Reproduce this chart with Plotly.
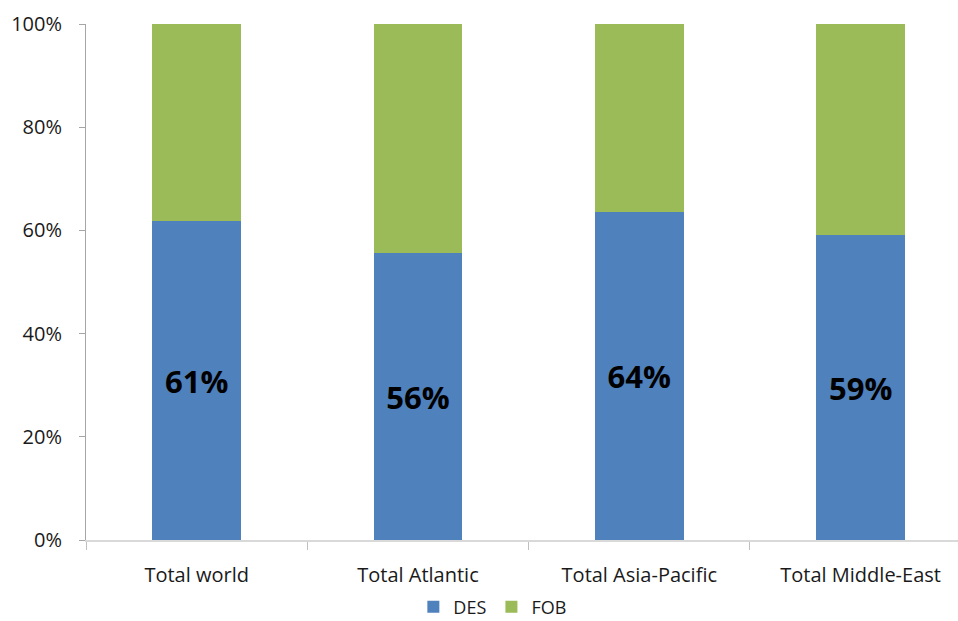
import plotly.graph_objects as go

categories = ["Total world", "Total Atlantic", "Total Asia-Pacific", "Total Middle-East"]
des_values = [61.8, 55.6, 63.6, 59.1]
fob_values = [100 - v for v in des_values]
des_labels = ["61%", "56%", "64%", "59%"]

FONT = "Open Sans, Liberation Sans, sans-serif"

fig = go.Figure()
fig.add_trace(go.Bar(
    x=categories, y=des_values, name="DES", marker_color="#4f81bd",
    marker_line_width=0, width=0.4,
    text=des_labels, textposition="inside", insidetextanchor="middle",
    textfont=dict(family=FONT, size=31, color="black", weight="bold"),
    textangle=0, hoverinfo="skip",
))
fig.add_trace(go.Bar(
    x=categories, y=fob_values, name="FOB", marker_color="#9bbb59",
    marker_line_width=0, width=0.4, hoverinfo="skip",
))

fig.update_layout(
    barmode="stack",
    width=958, height=621,
    margin=dict(l=86, r=0, t=24, b=81, autoexpand=False),
    paper_bgcolor="white", plot_bgcolor="white",
    font=dict(family=FONT, size=19, color="#1a1a1a"),
    showlegend=True,
    legend=dict(orientation="h", x=0.466, xanchor="center", y=-0.13, yanchor="middle",
                font=dict(size=18), traceorder="normal", itemwidth=30),
    uniformtext=dict(mode=False),
)
fig.update_xaxes(
    range=[-0.5, 3.44], showline=True, linecolor="#d9d9d9", linewidth=1.5,
    ticks="outside", tickson="boundaries", ticklen=8, tickcolor="#bfbfbf",
    showgrid=False, tickfont=dict(size=20), ticklabelstandoff=16,
)
fig.update_yaxes(
    range=[0, 100], dtick=20, ticksuffix="%", showline=True, linecolor="#a6a6a6",
    linewidth=1, ticks="outside", ticklen=6, tickcolor="#a6a6a6",
    showgrid=False, zeroline=False, tickfont=dict(size=20), ticklabelstandoff=13,
)

fig.write_html("out.html")
